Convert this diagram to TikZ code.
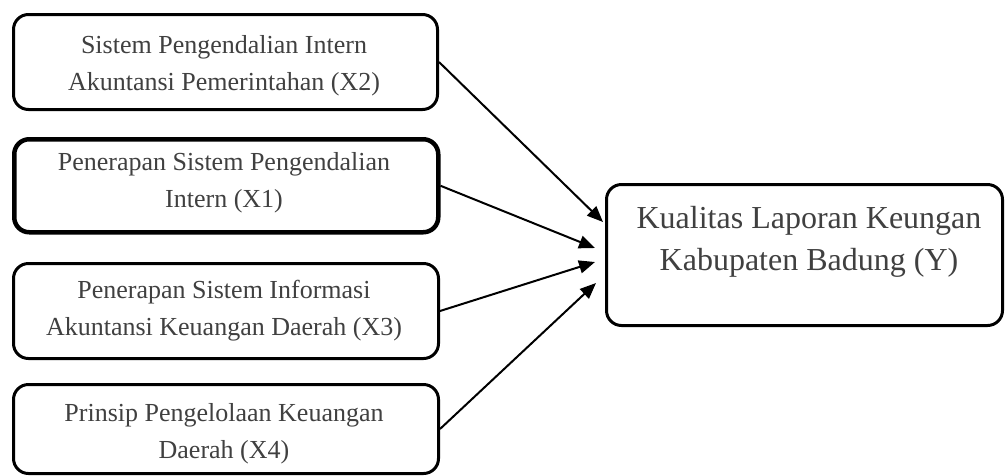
\documentclass[tikz,border=0pt]{standalone}
\usepackage{fontspec}
\setmainfont{Liberation Serif}
\usetikzlibrary{arrows.meta}
\definecolor{txt}{HTML}{404040}
\tikzset{
  box/.style={draw=black, line width=3pt, rounded corners=15pt, anchor=north west, inner sep=0pt},
  thickbox/.style={box, line width=4.5pt},
  lbl/.style={text=txt, align=center, font=\fontsize{26}{37}\selectfont, inner sep=0pt},
  bigl/.style={text=txt, align=center, font=\fontsize{32}{42}\selectfont, inner sep=0pt},
  arr/.style={line width=2pt, -{Triangle[length=16pt,width=13pt]}}
}
\begin{document}
\begin{tikzpicture}[x=1pt,y=-1pt]
\useasboundingbox (0,0) rectangle (1006,475);
\node[box, minimum width=424pt, minimum height=95pt] (b1) at (12,13) {};
\node[thickbox, minimum width=424pt, minimum height=93pt] (b2) at (12,137) {};
\node[box, minimum width=425pt, minimum height=95pt] (b3) at (12,262) {};
\node[box, minimum width=425pt, minimum height=89pt] (b4) at (12,383) {};
\node[box, minimum width=396pt, minimum height=141pt] (by) at (605,183) {};
\node[lbl] (t1) at (224,66) {Sistem Pengendalian Intern\\Akuntansi Pemerintahan (X2)};
\node[lbl] (t2) at (224,183) {Penerapan Sistem Pengendalian\\Intern (X1)};
\node[lbl] (t3) at (224,311) {Penerapan Sistem Informasi\\Akuntansi Keuangan Daerah (X3)};
\node[lbl] (t4) at (224,434) {Prinsip Pengelolaan Keuangan\\Daerah (X4)};
\node[bigl] (ty) at (809,242) {Kualitas Laporan Keungan\\Kabupaten Badung (Y)};
\coordinate (e1) at (603,222);
\coordinate (e2) at (595,248);
\coordinate (e3) at (595,262);
\coordinate (e4) at (596,283);
\draw[arr] (b1.east) -- (e1);
\draw[arr] (b2.east) -- (e2);
\draw[arr] (b3.east) -- (e3);
\draw[arr] (b4.east) -- (e4);
\end{tikzpicture}
\end{document}
